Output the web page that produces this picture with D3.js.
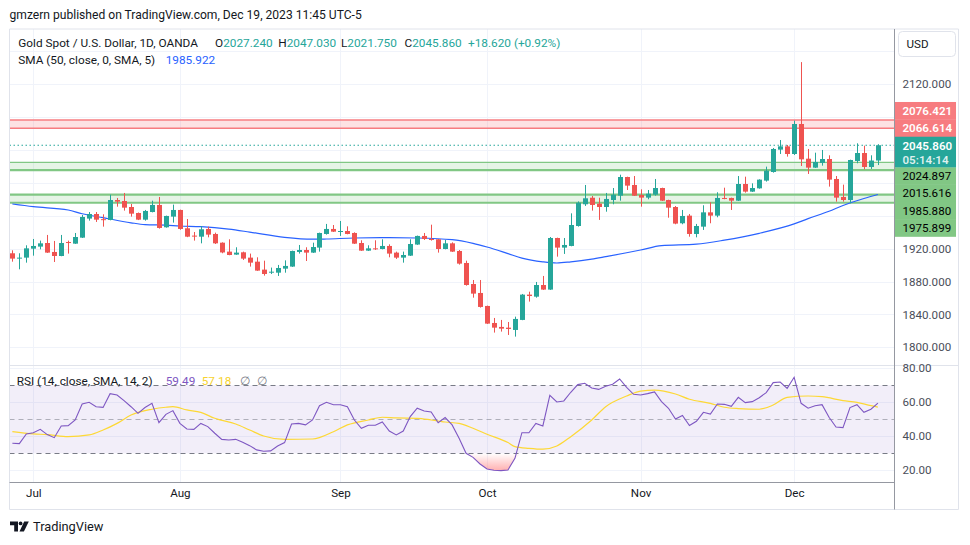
<!DOCTYPE html>
<html><head><meta charset="utf-8">
<script src="https://cdn.jsdelivr.net/npm/d3@7"></script>
<style>
html,body{margin:0;padding:0;background:#fff;}
svg{display:block;font-family:Roboto,"Noto Sans",sans-serif;}
</style></head><body>
<svg id="chart" width="970" height="545"></svg>
<script>
// ---------------- DATA ----------------
const dates = [
"2023-06-28","2023-06-29","2023-06-30",
"2023-07-03","2023-07-04","2023-07-05","2023-07-06","2023-07-07","2023-07-10","2023-07-11","2023-07-12","2023-07-13","2023-07-14",
"2023-07-17","2023-07-18","2023-07-19","2023-07-20","2023-07-21","2023-07-24","2023-07-25","2023-07-26","2023-07-27","2023-07-28","2023-07-31",
"2023-08-01","2023-08-02","2023-08-03","2023-08-04","2023-08-07","2023-08-08","2023-08-09","2023-08-10","2023-08-11","2023-08-14","2023-08-15",
"2023-08-16","2023-08-17","2023-08-18","2023-08-21","2023-08-22","2023-08-23","2023-08-24","2023-08-25","2023-08-28","2023-08-29","2023-08-30","2023-08-31",
"2023-09-01","2023-09-04","2023-09-05","2023-09-06","2023-09-07","2023-09-08","2023-09-11","2023-09-12","2023-09-13","2023-09-14","2023-09-15",
"2023-09-18","2023-09-19","2023-09-20","2023-09-21","2023-09-22","2023-09-25","2023-09-26","2023-09-27","2023-09-28","2023-09-29",
"2023-10-02","2023-10-03","2023-10-04","2023-10-05","2023-10-06","2023-10-09","2023-10-10","2023-10-11","2023-10-12","2023-10-13",
"2023-10-16","2023-10-17","2023-10-18","2023-10-19","2023-10-20","2023-10-23","2023-10-24","2023-10-25","2023-10-26","2023-10-27","2023-10-30","2023-10-31",
"2023-11-01","2023-11-02","2023-11-03","2023-11-06","2023-11-07","2023-11-08","2023-11-09","2023-11-10","2023-11-13","2023-11-14","2023-11-15",
"2023-11-16","2023-11-17","2023-11-20","2023-11-21","2023-11-22","2023-11-23","2023-11-24","2023-11-27","2023-11-28","2023-11-29","2023-11-30",
"2023-12-01","2023-12-04","2023-12-05","2023-12-06","2023-12-07","2023-12-08","2023-12-11","2023-12-12","2023-12-13","2023-12-14","2023-12-15","2023-12-18","2023-12-19"
];
const open = [
1914.4,1908.2,1909.1,
1920.0,1922.5,1926.9,1916.0,1911.1,1928.1,1926.1,1933.4,1956.6,1962.2,
1955.9,1954.9,1979.2,1978.0,1970.7,1963.4,1955.3,1964.6,1973.2,1946.0,1959.0,
1967.1,1944.8,1935.9,1934.6,1944.0,1937.9,1927.3,1916.4,1912.8,1915.6,1909.1,
1904.2,1894.5,1891.2,1890.8,1895.7,1898.2,1916.0,1918.4,1915.2,1921.3,1937.9,1944.0,
1940.7,1941.5,1939.1,1926.9,1917.6,1920.4,1919.6,1923.3,1915.2,1909.1,1911.5,
1925.0,1935.5,1931.8,1931.4,1919.6,1926.5,1917.2,1902.6,1877.0,1866.1,
1850.3,1829.6,1824.8,1823.9,1821.1,1833.3,1864.1,1861.6,1875.8,1870.2,
1933.0,1921.3,1923.3,1947.6,1974.0,1982.0,1974.8,1970.7,1979.2,1984.5,2007.2,1997.5,
1985.3,1982.1,1985.7,1993.8,1979.2,1970.7,1950.9,1960.2,1937.9,1946.8,1964.2,
1960.2,1981.7,1981.7,1978.4,1998.7,1989.4,1993.4,2002.8,2013.3,2040.5,2044.5,
2035.2,2071.7,2029.5,2018.6,2024.3,2029.1,2004.8,1982.9,1979.2,2026.7,2036.4,2019.4,2027.24
];
const high = [
1918.0,1914.4,1924.1,
1931.8,1929.8,1936.7,1929.4,1936.7,1929.8,1939.1,1961.0,1964.6,1964.6,
1961.8,1985.7,1981.7,1987.8,1974.4,1964.0,1967.1,1978.4,1982.9,1960.2,1973.6,
1967.5,1956.1,1940.3,1947.6,1946.8,1939.5,1927.7,1931.4,1921.7,1916.4,1914.0,
1909.5,1905.4,1897.0,1900.2,1905.8,1917.6,1924.5,1921.7,1927.3,1939.5,1950.1,1948.8,
1953.7,1947.2,1939.9,1930.2,1924.1,1930.2,1931.4,1925.3,1916.4,1916.4,1931.4,
1935.9,1939.1,1949.2,1931.8,1930.6,1927.7,1918.4,1905.4,1881.9,1881.9,
1850.7,1835.7,1833.3,1830.8,1837.3,1864.9,1867.7,1879.5,1886.8,1934.2,
1933.4,1933.0,1963.0,1977.5,1997.5,1984.1,1982.0,1987.8,1993.8,2010.0,2007.6,2008.4,
1992.2,1991.4,2004.8,1994.2,1979.6,1971.9,1967.1,1962.2,1950.1,1972.8,1976.4,
1988.6,1994.2,1982.1,2008.4,2007.6,1999.5,2004.4,2019.8,2042.5,2052.2,2046.2,
2075.8,2147.0,2041.3,2036.8,2040.1,2033.6,2008.4,1997.9,2028.3,2048.2,2045.3,2033.6,2047.03
];
const low = [
1904.2,1894.9,1903.0,
1911.5,1919.2,1914.8,1903.8,1910.8,1914.0,1925.8,1933.0,1954.1,1952.5,
1946.8,1954.5,1971.1,1966.3,1959.0,1954.8,1954.1,1964.2,1944.4,1945.6,1951.7,
1943.0,1934.0,1929.8,1926.5,1933.8,1925.7,1914.4,1912.0,1912.5,1906.3,1898.2,
1893.0,1887.2,1889.2,1886.8,1890.8,1897.8,1914.0,1905.0,1914.8,1916.4,1937.1,1940.3,
1935.5,1937.5,1925.7,1917.2,1917.2,1918.4,1919.2,1909.5,1907.5,1903.0,1911.1,
1924.6,1930.6,1929.8,1915.2,1919.2,1916.0,1900.6,1875.0,1860.4,1848.3,
1828.4,1817.9,1819.1,1815.0,1813.0,1833.0,1855.6,1860.4,1869.8,1869.8,
1910.3,1913.6,1922.9,1946.8,1972.0,1966.3,1955.0,1965.0,1974.0,1978.4,1991.4,1984.1,
1971.1,1980.1,1984.5,1978.0,1957.7,1949.7,1949.7,1934.6,1933.8,1942.8,1950.9,
1958.2,1980.1,1967.1,1978.0,1988.2,1989.0,1993.0,2001.6,2012.5,2035.2,2032.0,
2034.0,2020.6,2010.9,2018.2,2021.0,1995.5,1977.2,1977.2,1975.2,2023.9,2016.6,2017.0,2021.75
];
const close = [
1907.9,1909.1,1920.4,
1923.3,1926.5,1915.2,1911.1,1926.9,1927.3,1934.2,1958.6,1962.2,1955.3,
1955.1,1979.2,1977.2,1969.9,1962.6,1955.3,1965.9,1973.2,1945.2,1959.8,1967.1,
1944.0,1934.6,1935.0,1943.6,1937.1,1926.5,1915.4,1912.3,1915.2,1907.9,1903.0,
1893.3,1889.2,1892.0,1896.5,1899.0,1917.2,1918.4,1915.2,1922.0,1939.1,1944.0,1940.7,
1941.5,1937.9,1926.1,1917.6,1920.4,1919.6,1923.3,1914.0,1909.1,1912.3,1925.7,
1935.5,1931.8,1930.6,1919.6,1926.5,1916.4,1901.8,1875.8,1865.3,1849.1,
1828.8,1823.9,1822.7,1822.3,1834.5,1864.1,1862.4,1875.8,1870.2,1933.0,
1921.3,1924.5,1948.8,1976.0,1981.3,1973.2,1970.7,1980.5,1985.7,2007.2,1996.7,1984.5,
1982.1,1986.9,1993.8,1978.4,1969.9,1950.5,1959.8,1937.9,1947.6,1964.2,1960.2,
1981.7,1980.5,1978.4,1998.7,1989.4,1993.8,2004.0,2014.9,2041.3,2044.5,2035.2,
2071.7,2028.7,2018.6,2025.5,2029.1,2004.0,1982.1,1979.2,2027.9,2036.4,2019.4,2027.24,2045.86
];

// SMA(50) at sample sessions
const smaDates = ["2023-06-28","2023-07-03","2023-07-10","2023-07-12","2023-07-17","2023-07-21","2023-07-25","2023-07-28","2023-08-01","2023-08-04",
"2023-08-10","2023-08-15","2023-08-22","2023-08-28","2023-08-30","2023-09-05","2023-09-12","2023-09-18","2023-09-25","2023-09-28",
"2023-10-02","2023-10-05","2023-10-09","2023-10-12","2023-10-16","2023-10-18","2023-10-23","2023-10-25","2023-10-30","2023-11-01",
"2023-11-06","2023-11-13","2023-11-17","2023-11-24","2023-12-01","2023-12-05","2023-12-08","2023-12-12","2023-12-15","2023-12-19"];
const smaValues = [1974.4,1971.1,1967.1,1962.5,1957.7,1951.5,1949.3,1948.6,1947.6,1946.8,
1943.8,1940.2,1933.8,1931.5,1931.8,1933.0,1933.4,1933.0,1931.0,1926.5,
1922.0,1914.0,1908.5,1904.0,1902.6,1904.0,1907.3,1910.3,1915.0,1918.4,
1923.7,1925.5,1930.4,1938.7,1950.1,1956.5,1965.5,1972.5,1981.0,1985.922];

// RSI(14) per session
const rsiValues = [
35.9,35.7,41.4,
42.1,44.1,41.0,39.2,46.1,46.3,49.6,59.0,60.0,57.4,
57.0,65.1,64.3,61.0,57.4,53.5,56.9,59.4,48.0,52.9,55.1,
47.6,44.3,44.1,47.6,45.7,41.8,38.2,37.8,38.2,36.5,34.5,
32.0,31.2,31.4,34.3,36.3,47.2,47.6,46.7,49.6,58.0,60.0,58.6,
58.6,57.4,49.6,44.7,46.5,46.5,48.4,43.1,40.8,43.1,51.6,
56.5,54.9,54.3,48.0,51.0,46.7,38.8,30.0,27.6,23.7,
20.8,20.0,19.8,20.2,27.0,42.1,42.1,47.6,46.1,64.1,
60.2,60.8,65.9,70.4,71.2,68.4,67.6,69.4,70.6,73.7,68.8,64.7,
64.3,65.1,66.1,60.4,56.5,50.2,52.3,46.3,48.8,54.1,53.1,
59.0,58.8,57.6,62.9,59.8,60.4,62.7,65.7,71.6,71.9,68.2,
74.7,59.4,56.5,58.0,58.6,51.2,45.5,45.1,56.9,58.6,54.1,55.9,59.49
];
// RSI smoothing SMA(14) read at sample sessions
const rsiMaDates = ["2023-06-28","2023-07-03","2023-07-05","2023-07-10","2023-07-13","2023-07-17","2023-07-19","2023-07-21","2023-07-26","2023-07-28",
"2023-07-31","2023-08-02","2023-08-04","2023-08-08","2023-08-11","2023-08-15","2023-08-17","2023-08-22","2023-08-28","2023-08-31",
"2023-09-04","2023-09-07","2023-09-11","2023-09-13","2023-09-18","2023-09-20","2023-09-21","2023-09-22","2023-09-26","2023-09-28",
"2023-10-02","2023-10-05","2023-10-06","2023-10-10","2023-10-12","2023-10-16","2023-10-18","2023-10-23","2023-10-25","2023-10-30",
"2023-11-01","2023-11-03","2023-11-08","2023-11-10","2023-11-15","2023-11-17","2023-11-21","2023-11-24","2023-11-28","2023-11-30",
"2023-12-05","2023-12-07","2023-12-12","2023-12-14","2023-12-18","2023-12-19"];
const rsiMaValues = [42.7,41.4,41.0,39.8,40.8,43.7,47.6,52.5,55.9,57.1,
57.4,55.5,54.1,50.6,47.2,43.7,40.2,38.2,38.4,42.7,
46.7,49.6,51.2,50.8,50.6,49.6,49.0,48.4,47.6,44.7,
41.2,36.3,33.9,32.9,32.4,34.3,39.8,49.6,57.4,63.7,
66.6,67.2,64.9,61.8,59.4,57.1,56.3,55.9,58.4,62.9,
63.7,63.3,61.0,60.0,58.0,57.18];

const priceTicks = [1800,1840,1880,1920,1960,2000,2040,2080,2120,2160];
const rsiTicks = [20,40,60,80];
const rsiBands = [30,50,70];
const monthTickDates = ["2023-07-03","2023-08-01","2023-09-01","2023-10-02","2023-11-01","2023-12-01"];
const monthLabels = ["Jul","Aug","Sep","Oct","Nov","Dec"];
const resistanceZone = [2066.614,2076.421];
const supportZones = [[2015.616,2024.897],[1975.899,1985.880]];
const countdown = "05:14:14";

// ---------------- LAYOUT ----------------
const L=9.5, R=894, T=29, PB=365, RB=482, AB=509.5, OR=958.5;
const UP="#26A69A", DN="#EF5350", GRID="#F0F3FA", BORDER="#E0E3EB", TXT="#131722", AX="#4A4E59";
const FS=11.8, AFS=11.6;

const svg=d3.select("#chart");
const x=d3.scalePoint().domain(dates).range([12.36,877.9]);
const y=d3.scaleLinear().domain([1800,2120]).range([347.3,84.3]);
const yr=d3.scaleLinear().domain([20,80]).range([470.3,368.3]);

const defs=svg.append("defs");
defs.append("clipPath").attr("id","cp").append("rect").attr("x",L).attr("y",T).attr("width",R-L).attr("height",PB-T);
defs.append("clipPath").attr("id","cr").append("rect").attr("x",L).attr("y",PB).attr("width",R-L).attr("height",RB-PB);
const grad=defs.append("linearGradient").attr("id","os").attr("gradientUnits","userSpaceOnUse")
  .attr("x1",0).attr("x2",0).attr("y1",yr(30)).attr("y2",yr(20));
grad.append("stop").attr("offset",0).attr("stop-color","#FF5252").attr("stop-opacity",0);
grad.append("stop").attr("offset",1).attr("stop-color","#FF5252").attr("stop-opacity",0.45);

// header text
svg.append("text").attr("x",9.5).attr("y",18.5).attr("font-size",12.1).attr("fill",TXT)
  .text("gmzern published on TradingView.com, Dec 19, 2023 11:45 UTC-5");

// gridlines
const gp=svg.append("g").attr("clip-path","url(#cp)");
gp.selectAll("line.h").data(priceTicks).join("line").attr("x1",L).attr("x2",R)
  .attr("y1",d=>Math.round(y(d))+0.5).attr("y2",d=>Math.round(y(d))+0.5).attr("stroke",GRID);
const gr=svg.append("g").attr("clip-path","url(#cr)");
gr.selectAll("line").data(rsiTicks).join("line").attr("x1",L).attr("x2",R)
  .attr("y1",d=>Math.round(yr(d))+0.5).attr("y2",d=>Math.round(yr(d))+0.5).attr("stroke",GRID);
svg.append("g").selectAll("line").data(monthTickDates).join("line")
  .attr("x1",d=>Math.round(x(d))+0.5).attr("x2",d=>Math.round(x(d))+0.5).attr("y1",T).attr("y2",RB).attr("stroke",GRID);

// zones
const zp=svg.append("g").attr("clip-path","url(#cp)");
zp.append("rect").attr("x",L).attr("width",R-L).attr("y",y(resistanceZone[1])).attr("height",y(resistanceZone[0])-y(resistanceZone[1]))
  .attr("fill","rgba(247,124,128,0.22)");
resistanceZone.forEach(v=>zp.append("line").attr("x1",L).attr("x2",R).attr("y1",y(v)).attr("y2",y(v)).attr("stroke","#F77C80").attr("stroke-width",1.5));
supportZones.forEach((z,i)=>{
  zp.append("rect").attr("x",L).attr("width",R-L).attr("y",y(z[1])).attr("height",y(z[0])-y(z[1])).attr("fill","rgba(129,199,132,0.2)");
  zp.append("line").attr("x1",L).attr("x2",R).attr("y1",y(z[1])).attr("y2",y(z[1])).attr("stroke","#81C784").attr("stroke-width",i===0?1.2:2.2);
  zp.append("line").attr("x1",L).attr("x2",R).attr("y1",y(z[0])).attr("y2",y(z[0])).attr("stroke","#81C784").attr("stroke-width",2.2);
});

// last price dotted line
const last=close.length-1;
zp.append("line").attr("x1",L).attr("x2",R).attr("y1",y(close[last])).attr("y2",y(close[last]))
  .attr("stroke",UP).attr("stroke-dasharray","1.5,2.5").attr("stroke-width",1.2);

// SMA line
zp.append("path").datum(smaDates.map((d,i)=>[d,smaValues[i]]))
  .attr("fill","none").attr("stroke","#2962FF").attr("stroke-width",1.2)
  .attr("d",d3.line().x(d=>x(d[0])).y(d=>y(d[1])).curve(d3.curveMonotoneX));

// candles
const cg=zp.append("g");
const idx=d3.range(dates.length);
cg.selectAll("line").data(idx).join("line")
  .attr("x1",i=>Math.round(x(dates[i]))+0.5).attr("x2",i=>Math.round(x(dates[i]))+0.5)
  .attr("y1",i=>y(high[i])).attr("y2",i=>y(low[i]))
  .attr("stroke",i=>close[i]>=open[i]?UP:DN).attr("stroke-width",1);
cg.selectAll("rect").data(idx).join("rect")
  .attr("x",i=>Math.round(x(dates[i]))-2).attr("width",5)
  .attr("y",i=>y(Math.max(open[i],close[i])))
  .attr("height",i=>Math.max(1,Math.abs(y(open[i])-y(close[i]))))
  .attr("fill",i=>close[i]>=open[i]?UP:DN);

// RSI pane
const rp=svg.append("g").attr("clip-path","url(#cr)");
rp.append("rect").attr("x",L).attr("width",R-L).attr("y",yr(70)).attr("height",yr(30)-yr(70)).attr("fill","rgba(126,87,194,0.1)");
rsiBands.forEach(b=>rp.append("line").attr("x1",L).attr("x2",R).attr("y1",Math.round(yr(b))+0.5).attr("y2",Math.round(yr(b))+0.5)
  .attr("stroke",b===50?"rgba(120,123,134,0.55)":"#787B86").attr("stroke-dasharray","5,4"));
rp.append("path").datum(idx).attr("fill","url(#os)")
  .attr("d",d3.area().x(i=>x(dates[i])).y0(yr(30)).y1(i=>yr(Math.min(30,rsiValues[i]))));
rp.append("path").datum(rsiMaDates.map((d,i)=>[d,rsiMaValues[i]]))
  .attr("fill","none").attr("stroke","#FDD835").attr("stroke-width",1.2)
  .attr("d",d3.line().x(d=>x(d[0])).y(d=>yr(d[1])).curve(d3.curveMonotoneX));
rp.append("path").datum(idx).attr("fill","none").attr("stroke","#7E57C2").attr("stroke-width",1.1)
  .attr("d",d3.line().x(i=>x(dates[i])).y(i=>yr(rsiValues[i])));

// container & separators
svg.append("line").attr("x1",L).attr("x2",OR).attr("y1",T).attr("y2",T).attr("stroke",BORDER);
svg.append("line").attr("x1",L).attr("x2",L).attr("y1",T).attr("y2",AB).attr("stroke",BORDER);
svg.append("line").attr("x1",OR).attr("x2",OR).attr("y1",T).attr("y2",AB).attr("stroke",BORDER);
svg.append("line").attr("x1",L).attr("x2",OR).attr("y1",AB).attr("y2",AB).attr("stroke",BORDER);
svg.append("line").attr("x1",L).attr("x2",OR).attr("y1",PB+0.5).attr("y2",PB+0.5).attr("stroke",BORDER);
svg.append("line").attr("x1",L).attr("x2",R).attr("y1",RB+0.5).attr("y2",RB+0.5).attr("stroke","#9598A1");
svg.append("line").attr("x1",R+0.5).attr("x2",R+0.5).attr("y1",T).attr("y2",AB).attr("stroke","#9598A1");

// time axis
const xa=d3.axisBottom(x).tickValues(monthTickDates).tickFormat((d,i)=>monthLabels[i]).tickSize(0).tickPadding(7);
const xag=svg.append("g").attr("transform",`translate(0,${RB})`).call(xa);
xag.select(".domain").remove();
xag.selectAll("text").attr("font-size",AFS).attr("fill",TXT).attr("font-family","Roboto,sans-serif");

// price-scale labels (boxes)
const LH=17.3;
const curY=y(close[last]);
const aboveLabels=[resistanceZone[0],resistanceZone[1]];
const belowLabels=[supportZones[0][1],supportZones[0][0],supportZones[1][1],supportZones[1][0]];
let prevTop=curY-LH/2;
const aboveY=aboveLabels.map(v=>{let c=Math.min(y(v),prevTop-LH/2);prevTop=c-LH/2;return c;});
let prevBot=curY-LH/2+2*LH*0.885;
const belowY=belowLabels.map(v=>{let c=Math.max(y(v),prevBot+LH/2);prevBot=c+LH/2;return c;});
const curTop=curY-8.5, curBot=curTop+30.6;
const boxes=[];
aboveLabels.forEach((v,i)=>boxes.push({v,c:aboveY[i],fill:"#F77C80",tc:"#fff"}));
belowLabels.forEach((v,i)=>boxes.push({v,c:belowY[i],fill:"#81C784",tc:"#000"}));
const ag=svg.append("g");
boxes.forEach(b=>{
  ag.append("rect").attr("x",R+1).attr("width",956-R-1).attr("y",b.c-LH/2).attr("height",LH+0.4).attr("fill",b.fill);
});
ag.append("rect").attr("x",R+1).attr("width",956-R-1).attr("y",curTop).attr("height",curBot-curTop).attr("fill",UP);
boxes.forEach(b=>{
  ag.append("text").attr("x",902.5).attr("y",b.c).attr("dy","0.36em").attr("font-size",AFS).attr("fill",b.tc)
    .attr("font-weight",b.tc==="#fff"?600:400).text(d3.format(".3f")(b.v));
});
ag.append("text").attr("x",902.5).attr("y",curY+0.8).attr("dy","0.36em").attr("font-size",AFS).attr("font-weight",600).attr("fill","#fff").text(d3.format(".3f")(close[last]));
ag.append("text").attr("x",902.5).attr("y",curY+14.1).attr("dy","0.36em").attr("font-size",AFS).attr("font-weight",600).attr("fill","rgba(255,255,255,0.85)").text(countdown);

// USD box
ag.append("rect").attr("x",898.5).attr("y",31.5).attr("width",57).attr("height",25).attr("rx",4).attr("fill","#fff").attr("stroke",BORDER);
ag.append("text").attr("x",906.5).attr("y",44).attr("dy","0.36em").attr("font-size",AFS).attr("fill",TXT).text("USD");

// price tick labels (hidden where covered by boxes)
const occupied=[[31.5,56.5],[aboveY[1]-LH/2,belowY[3]+LH/2]];
priceTicks.forEach(t=>{
  const ty=y(t);
  if(ty<T||ty>PB-6) return;
  if(occupied.some(o=>ty+7>o[0]&&ty-7<o[1])) return;
  svg.append("text").attr("x",902.5).attr("y",ty).attr("dy","0.36em").attr("font-size",AFS).attr("fill",AX).text(d3.format(".3f")(t));
});
rsiTicks.forEach(t=>{
  svg.append("text").attr("x",902.5).attr("y",yr(t)).attr("dy","0.36em").attr("font-size",AFS).attr("fill",AX).text(d3.format(".2f")(t));
});

// legends
const f3=d3.format(".3f");
const lg=svg.append("text").attr("x",18.3).attr("y",46.5).attr("font-size",FS).attr("fill",TXT);
lg.append("tspan").text("Gold Spot / U.S. Dollar, 1D, OANDA");
const chg=close[last]-close[last-1];
[["O",open[last],215],["H",high[last],278.3],["L",low[last],341],["C",close[last],404.5]].forEach(p=>{
  lg.append("tspan").attr("x",p[2]).attr("fill",TXT).text(p[0]);
  lg.append("tspan").attr("fill",UP).text(f3(p[1]));
});
lg.append("tspan").attr("x",468).attr("fill",UP).text((chg>=0?"+":"")+f3(chg)+" ("+(chg>=0?"+":"")+d3.format(".2f")(chg/close[last-1]*100)+"%)");
const lg2=svg.append("text").attr("x",18.3).attr("y",63.5).attr("font-size",FS).attr("fill",TXT);
lg2.append("tspan").text("SMA (50, close, 0, SMA, 5)");
lg2.append("tspan").attr("x",165.7).attr("fill","#2962FF").text(f3(smaValues[smaValues.length-1]));

const lg3=svg.append("text").attr("x",16.7).attr("y",385).attr("font-size",FS).attr("fill",TXT);
lg3.append("tspan").text("RSI (14, close, SMA, 14, 2)");
lg3.append("tspan").attr("x",165.7).attr("fill","#7E57C2").text(d3.format(".2f")(rsiValues[rsiValues.length-1]));
lg3.append("tspan").attr("x",201.7).attr("fill","#F7D22E").text(d3.format(".2f")(rsiMaValues[rsiMaValues.length-1]));
lg3.append("tspan").attr("x",240).attr("fill","#787B86").text("∅");
lg3.append("tspan").attr("x",256.7).attr("fill","#787B86").text("∅");

// TradingView logo
const logo=svg.append("g").attr("fill",TXT);
logo.append("path").attr("d","M10,521.5 h8 v10 h-3.8 v-6.2 h-4.2 z");
logo.append("circle").attr("cx",20.6).attr("cy",523.4).attr("r",1.9);
logo.append("path").attr("d","M24.2,521.5 h4.6 l-4.9,10 h-4.4 z");
svg.append("text").attr("x",33).attr("y",531).attr("font-size",12.8).attr("fill",TXT).text("TradingView");
</script>
</body></html>
